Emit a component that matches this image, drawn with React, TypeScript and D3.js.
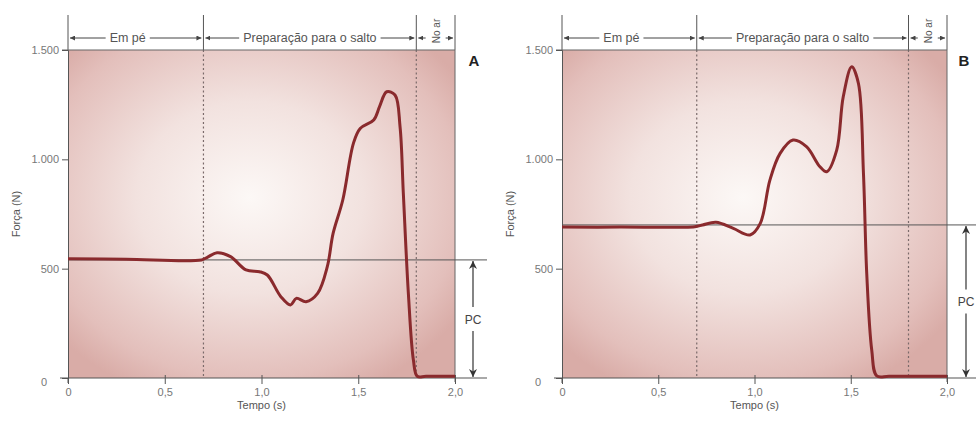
import React, { useEffect, useRef } from 'react';
import * as d3 from 'd3';

// Panel A: tempo (s) and força (N)
const timeA = [0, 0.3, 0.69, 0.72, 0.77, 0.84, 0.92, 0.99, 1.03, 1.1, 1.15, 1.18, 1.23, 1.29, 1.34, 1.37, 1.42, 1.475, 1.51, 1.58, 1.61, 1.647, 1.69, 1.716, 1.733, 1.759, 1.785, 1.805, 1.85, 2.0];
const forceA = [545, 543, 540, 552, 573, 555, 494, 486, 471, 372, 334, 364, 349, 387, 509, 661, 814, 1073, 1141, 1180, 1241, 1309, 1294, 1149, 844, 387, 82, 8, 8, 8];

// Panel B
const timeB = [0, 0.3, 0.69, 0.73, 0.8, 0.89, 0.977, 1.03, 1.08, 1.133, 1.2, 1.27, 1.34, 1.375, 1.427, 1.461, 1.505, 1.54, 1.566, 1.583, 1.609, 1.635, 1.7, 2.0];
const forceB = [690, 690, 692, 700, 712, 684, 654, 707, 905, 1027, 1088, 1058, 966, 943, 1042, 1286, 1423, 1347, 936, 479, 128, 10, 8, 8];

const bodyWeight = [540, 700];
const phaseBounds = [0, 0.7, 1.8, 2.0];
const phaseLabels = ['Em pé', 'Preparação para o salto', 'No ar'];
const xTicks = [0, 0.5, 1.0, 1.5, 2.0];
const yTicks = [0, 500, 1000, 1500];
const panelNames = ['A', 'B'];

const locale = d3.formatLocale({ decimal: ',', thousands: '.', grouping: [3], currency: ['', ''] });
const fmtX = (d: number) => (d === 0 ? '0' : locale.format('.1f')(d));
const fmtY = locale.format(',d');

const W = 976;
const H = 427;
const FONT = '"Liberation Sans", Arial, sans-serif';

const panels = [
  { left: 68, right: 455, time: timeA, force: forceA, pcEnd: 487, pcX: 473 },
  { left: 562, right: 947, time: timeB, force: forceB, pcEnd: 976, pcX: 966 },
];

export default function App() {
  const svgRef = useRef<SVGSVGElement | null>(null);

  useEffect(() => {
    const svg = d3.select(svgRef.current);
    svg.selectAll('*').remove();

    const defs = svg.append('defs');
    defs.append('marker')
      .attr('id', 'arr')
      .attr('viewBox', '0 0 10 10')
      .attr('refX', 10).attr('refY', 5)
      .attr('markerWidth', 5).attr('markerHeight', 5)
      .attr('markerUnits', 'userSpaceOnUse')
      .attr('orient', 'auto-start-reverse')
      .append('path').attr('d', 'M0,0L10,5L0,10z').attr('fill', '#444');
    defs.append('marker')
      .attr('id', 'arrBig')
      .attr('viewBox', '0 0 10 10')
      .attr('refX', 10).attr('refY', 5)
      .attr('markerWidth', 8).attr('markerHeight', 8)
      .attr('markerUnits', 'userSpaceOnUse')
      .attr('orient', 'auto-start-reverse')
      .append('path').attr('d', 'M0,0L10,5L0,10L3,5z').attr('fill', '#333');

    const grad = defs.append('radialGradient')
      .attr('id', 'bg')
      .attr('cx', 0.47).attr('cy', 0.45).attr('r', 0.65);
    grad.append('stop').attr('offset', '0%').attr('stop-color', '#fcf8f6');
    grad.append('stop').attr('offset', '45%').attr('stop-color', '#f2e2df');
    grad.append('stop').attr('offset', '85%').attr('stop-color', '#e3bfbb');
    grad.append('stop').attr('offset', '100%').attr('stop-color', '#d9aca7');

    const top = 50;
    const bottom = 378;

    panels.forEach((p, i) => {
      const x = d3.scaleLinear().domain([0, 2]).range([p.left, p.right]);
      const y = d3.scaleLinear().domain([0, 1500]).range([bottom, top]);
      const g = svg.append('g');

      // background
      g.append('rect')
        .attr('x', x(0)).attr('y', y(1500))
        .attr('width', x(2) - x(0)).attr('height', y(0) - y(1500))
        .attr('fill', 'url(#bg)');

      // phase dividers
      phaseBounds.forEach((t, k) => {
        g.append('line')
          .attr('x1', x(t)).attr('x2', x(t))
          .attr('y1', 15).attr('y2', top)
          .attr('stroke', '#555').attr('stroke-width', 1);
        if (k === 1 || k === 2) {
          g.append('line')
            .attr('x1', x(t)).attr('x2', x(t))
            .attr('y1', top).attr('y2', bottom)
            .attr('stroke', '#7a6a6a').attr('stroke-width', 1.2)
            .attr('stroke-dasharray', '2,2.5');
        }
      });
      g.append('line')
        .attr('x1', x(2)).attr('x2', x(2))
        .attr('y1', top).attr('y2', bottom + 4)
        .attr('stroke', '#666').attr('stroke-width', 1);

      // phase labels with arrows
      const hy = 38;
      phaseLabels.forEach((lab, k) => {
        const a = x(phaseBounds[k]);
        const b = x(phaseBounds[k + 1]);
        const c = (a + b) / 2;
        const rotated = k === 2;
        const cc = k === 0 ? c - 8 : c;
        const txt = g.append('text')
          .attr('font-family', FONT).attr('font-size', rotated ? 10 : 12.5)
          .attr('fill', '#555').text(lab);
        let half: number;
        if (rotated) {
          txt.attr('text-anchor', 'middle')
            .attr('transform', `translate(${c + 4},31) rotate(-90)`);
          half = 6;
        } else {
          txt.attr('x', cc).attr('y', hy + 4).attr('text-anchor', 'middle');
          half = (txt.node() as SVGTextElement).getComputedTextLength() / 2;
        }
        g.append('line')
          .attr('x1', cc - half - 4).attr('x2', a + 2)
          .attr('y1', hy).attr('y2', hy)
          .attr('stroke', '#444').attr('stroke-width', 1)
          .attr('marker-end', 'url(#arr)');
        g.append('line')
          .attr('x1', cc + half + 4).attr('x2', b - 2)
          .attr('y1', hy).attr('y2', hy)
          .attr('stroke', '#444').attr('stroke-width', 1)
          .attr('marker-end', 'url(#arr)');
      });

      // top border
      g.append('line')
        .attr('x1', x(0) - 6).attr('x2', x(2))
        .attr('y1', y(1500)).attr('y2', y(1500))
        .attr('stroke', '#666').attr('stroke-width', 1.2);

      // body weight line
      g.append('line')
        .attr('x1', x(0)).attr('x2', p.pcEnd)
        .attr('y1', y(bodyWeight[i])).attr('y2', y(bodyWeight[i]))
        .attr('stroke', '#555').attr('stroke-width', 1);

      // axes
      const yAxis = g.append('g')
        .attr('transform', `translate(${x(0)},0)`)
        .call(d3.axisLeft(y).tickValues(yTicks).tickFormat((d) => fmtY(d as number)).tickSize(6).tickPadding(3));
      yAxis.select('.domain').attr('stroke', '#555');
      yAxis.selectAll('.tick line').attr('stroke', '#555');
      yAxis.selectAll('.tick text')
        .attr('font-family', FONT).attr('font-size', 11).attr('fill', '#777')
        .attr('dx', (d) => ((d as number) === 0 ? -12 : 0))
        .attr('dy', (d) => ((d as number) === 0 ? '0.7em' : '0.32em'));
      yAxis.append('line')
        .attr('x1', 0).attr('x2', 0).attr('y1', bottom).attr('y2', bottom + 5)
        .attr('stroke', '#555');

      const xAxis = g.append('g')
        .attr('transform', `translate(0,${bottom})`)
        .call(d3.axisBottom(x).tickValues(xTicks).tickFormat((d) => fmtX(d as number)).tickSize(6).tickPadding(4));
      xAxis.select('.domain').remove();
      xAxis.selectAll('.tick line').attr('stroke', '#555').attr('y1', -3);
      xAxis.selectAll('.tick text')
        .attr('font-family', FONT).attr('font-size', 11).attr('fill', '#777');
      g.append('line')
        .attr('x1', x(0) - 8).attr('x2', p.pcEnd)
        .attr('y1', bottom).attr('y2', bottom)
        .attr('stroke', '#555').attr('stroke-width', 1.2);

      // axis titles
      g.append('text')
        .attr('transform', `translate(${x(0) - 48},${y(750)}) rotate(-90)`)
        .attr('text-anchor', 'middle')
        .attr('font-family', FONT).attr('font-size', 11).attr('fill', '#555')
        .text('Força (N)');
      g.append('text')
        .attr('x', x(1)).attr('y', bottom + 31)
        .attr('text-anchor', 'middle')
        .attr('font-family', FONT).attr('font-size', 11).attr('fill', '#555')
        .text('Tempo (s)');

      // curve
      const pts = p.time.map((t, k) => [t, p.force[k]] as [number, number]);
      g.append('path')
        .datum(pts)
        .attr('d', d3.line<[number, number]>().x((d) => x(d[0])).y((d) => y(d[1])).curve(d3.curveCatmullRom.alpha(0.5)))
        .attr('fill', 'none')
        .attr('stroke', '#8a2a2d')
        .attr('stroke-width', 3)
        .attr('stroke-linejoin', 'round');

      // PC arrow
      const midPC = (y(bodyWeight[i]) + y(0)) / 2;
      g.append('line')
        .attr('x1', p.pcX).attr('x2', p.pcX)
        .attr('y1', midPC - 12).attr('y2', y(bodyWeight[i]) + 1)
        .attr('stroke', '#333').attr('stroke-width', 1.2)
        .attr('marker-end', 'url(#arrBig)');
      g.append('line')
        .attr('x1', p.pcX).attr('x2', p.pcX)
        .attr('y1', midPC + 12).attr('y2', y(0) - 1)
        .attr('stroke', '#333').attr('stroke-width', 1.2)
        .attr('marker-end', 'url(#arrBig)');
      g.append('text')
        .attr('x', p.pcX).attr('y', midPC + 5)
        .attr('text-anchor', 'middle')
        .attr('font-family', FONT).attr('font-size', 12).attr('fill', '#444')
        .text('PC');

      // panel letter
      g.append('text')
        .attr('x', i === 0 ? 474 : 964).attr('y', 66)
        .attr('text-anchor', 'middle')
        .attr('font-family', FONT).attr('font-size', 15).attr('font-weight', 'bold')
        .attr('fill', '#222')
        .text(panelNames[i]);
    });
  }, []);

  return (
    <div style={{ position: 'absolute', left: 0, top: 0, width: W, height: H, background: '#fff' }}>
      <svg ref={svgRef} width={W} height={H} style={{ display: 'block' }} />
    </div>
  );
}
